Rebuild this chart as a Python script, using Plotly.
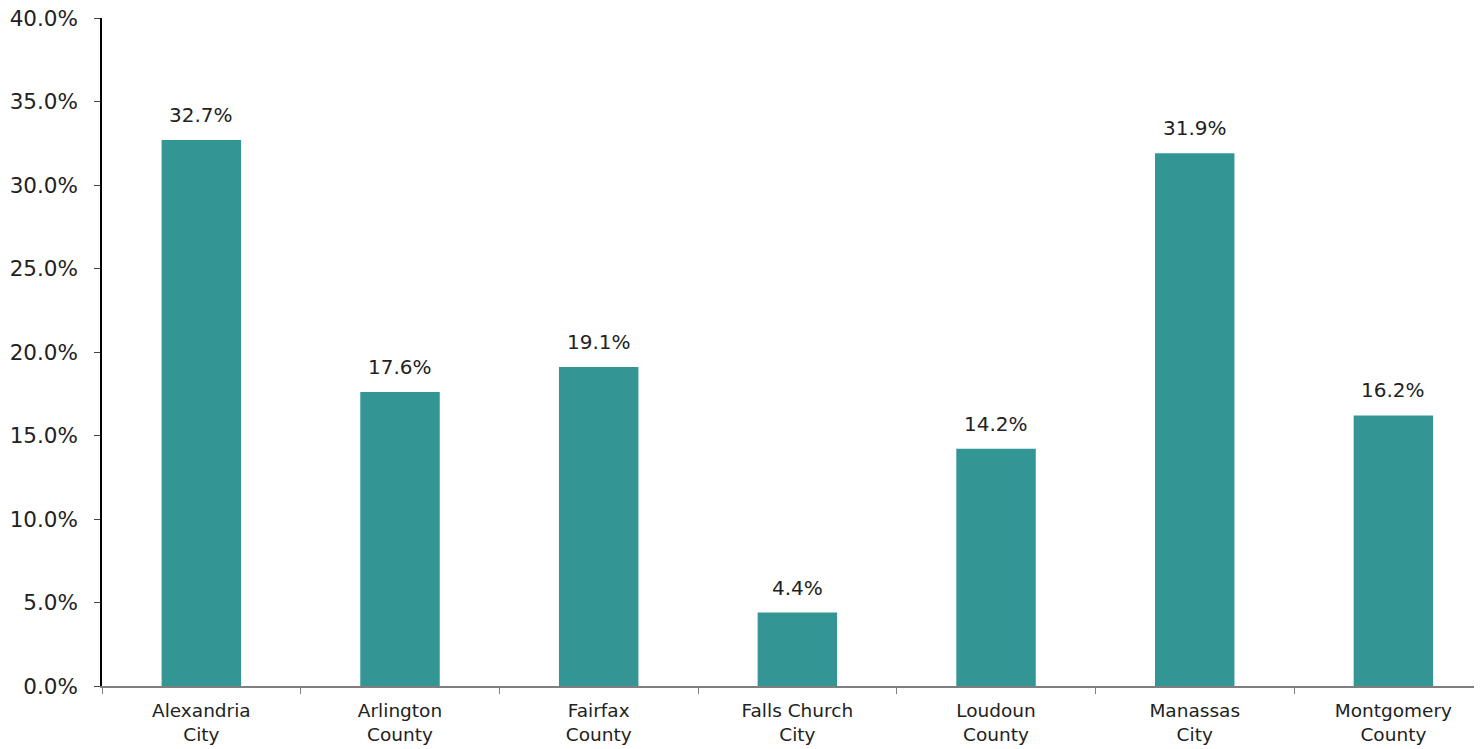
import plotly.graph_objects as go

categories = ["Alexandria<br>City", "Arlington<br>County", "Fairfax<br>County",
              "Falls Church<br>City", "Loudoun<br>County", "Manassas<br>City",
              "Montgomery<br>County"]
values = [32.7, 17.6, 19.1, 4.4, 14.2, 31.9, 16.2]
tick_vals = [0, 5, 10, 15, 20, 25, 30, 35, 40]
tick_text = ["0.0%", "5.0%", "10.0%", "15.0%", "20.0%", "25.0%", "30.0%", "35.0%", "40.0%"]

FONT = "DejaVu Sans"
TXT = "#222222"

fig = go.Figure()
fig.add_trace(go.Bar(
    x=categories, y=values, width=0.4,
    marker=dict(color="#339694", line=dict(width=0)),
    cliponaxis=False,
))
for c, v in zip(categories, values):
    fig.add_annotation(x=c, y=v, text=f"{v:.1f}%", showarrow=False,
                       yanchor="bottom", yshift=11,
                       font=dict(family=FONT, size=20, color=TXT))
fig.update_layout(
    width=1482, height=749,
    margin=dict(l=94, r=8, t=10, b=71, autoexpand=False),
    plot_bgcolor="white", paper_bgcolor="white",
    showlegend=False,
    font=dict(family=FONT, color=TXT),
    xaxis=dict(
        range=[-0.5, 6.446], showline=True, linecolor="#7f7f7f", linewidth=1.5,
        ticks="outside", tickson="boundaries", ticklen=6, tickcolor="#7f7f7f",
        tickfont=dict(family=FONT, size=18.5, color=TXT), showgrid=False,
        ticklabelstandoff=7,
    ),
    yaxis=dict(
        range=[0, 40.0001], tickvals=tick_vals, ticktext=tick_text,
        showline=True, linecolor="#000000", linewidth=1.5,
        ticks="outside", ticklen=6, tickcolor="#444444",
        tickfont=dict(family=FONT, size=21.5, color=TXT), showgrid=False,
        zeroline=False, ticklabelstandoff=12, ticklabeloverflow="allow",
    ),
)
fig.write_html("out.html")
